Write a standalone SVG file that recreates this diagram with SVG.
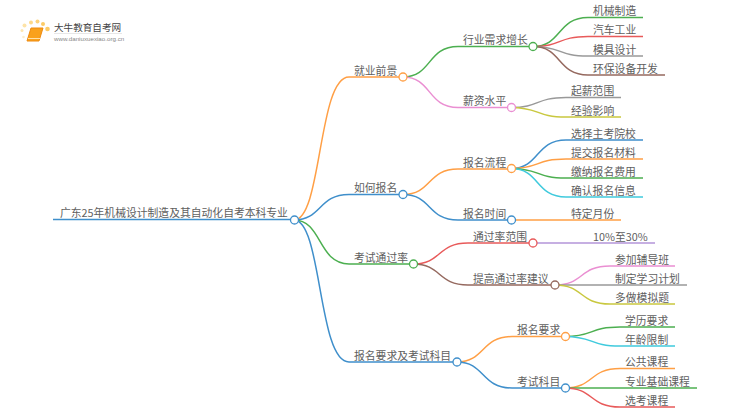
<svg xmlns="http://www.w3.org/2000/svg" width="750" height="410" viewBox="0 0 750 410">
<style>
text{font-family:"Noto Sans CJK SC","Liberation Sans",sans-serif;font-size:10.8px;fill:#606060}
#connectors path{fill:none;stroke-width:1.5}
circle{fill:#fff;stroke-width:1.3}
.o{stroke:#ff9f45}.b{stroke:#3f8fcb}.g{stroke:#4caf50}.p{stroke:#ea8fd2}.r{stroke:#e85a5a}.k{stroke:#999}.n{stroke:#95695f}.y{stroke:#c9c83f}.c{stroke:#3fcadd}.u{stroke:#b394d8}
</style>
<rect width="750" height="410" fill="#fff"/>
<g id="logo">
<circle cx="22" cy="30.500" r="1.500" style="fill:#fde6b0;stroke:none"/><circle cx="24.500" cy="25.500" r="2" style="fill:#fde3a8;stroke:none"/><circle cx="31" cy="22.500" r="2" style="fill:#fdd98a;stroke:none"/><circle cx="37.500" cy="21.500" r="2" style="fill:#fdd27a;stroke:none"/><circle cx="43" cy="24" r="2" style="fill:#fccb66;stroke:none"/><circle cx="47.500" cy="29" r="2.300" style="fill:#fccb66;stroke:none"/><circle cx="23.500" cy="37" r="1.300" style="fill:#fdeecb;stroke:none"/>
<path d="M31 28H43L39 41H27Z" fill="#f9a11b" stroke="#ee8a10" stroke-width="1"/>
<path d="M28 38.500H40" stroke="#ffe1a8" stroke-width="1" fill="none"/>
<text x="54" y="31" style="font-size:9.600px;fill:#444">大牛教育自考网</text>
<path d="M54 33.500H122" stroke="#ddd" stroke-width="0.700" fill="none"/>
<text x="54" y="41" style="font-size:6.200px;fill:#888;font-family:'Liberation Sans',sans-serif">www.daniuxuexiao.org.cn</text>
</g>
<g id="connectors">
<path class="b" d="M53 219.500H294"/>
<path class="o" d="M294 220C322 220 318 77 349 77H403"/>
<path class="b" d="M294 220C322 220 318 194.500 349 194.500H403"/>
<path class="g" d="M294 220C322 220 318 264 349 264H413"/>
<path class="b" d="M294 220C322 220 318 362 349 362H457"/>
<path class="g" d="M403 77C432 77 427 46.500 458 46.500H533"/>
<path class="p" d="M403 77C432 77 427 107.500 458 107.500H511"/>
<path class="g" d="M533 46.500C562 46.500 557 17.500 588 17.500H643"/>
<path class="r" d="M533 46.500C562 46.500 557 36.500 588 36.500H643"/>
<path class="k" d="M533 46.500C562 46.500 557 56 588 56H643"/>
<path class="n" d="M533 46.500C562 46.500 557 75 588 75H665"/>
<path class="k" d="M511 107.500C540 107.500 535 97.500 566 97.500H621"/>
<path class="y" d="M511 107.500C540 107.500 535 117 566 117H621"/>
<path class="o" d="M403 194.500C432 194.500 427 169 458 169H511"/>
<path class="b" d="M403 194.500C432 194.500 427 220 458 220H511"/>
<path class="b" d="M511 168.500C540 168.500 535 140 566 140H643"/>
<path class="o" d="M511 168.500C540 168.500 535 159 566 159H643"/>
<path class="g" d="M511 168.500C540 168.500 535 178 566 178H643"/>
<path class="c" d="M511 168.500C540 168.500 535 197 566 197H643"/>
<path class="o" d="M511 220H621"/>
<path class="r" d="M413 264C442 264 437 243 468 243H533"/>
<path class="n" d="M413 264C442 264 437 285 468 285H555"/>
<path class="u" d="M533 243H655"/>
<path class="p" d="M555 285C584 285 579 266 610 266H675"/>
<path class="k" d="M555 285H687"/>
<path class="y" d="M555 285C584 285 579 304 610 304H675"/>
<path class="o" d="M457 362C485 362 481 336.500 512 336.500H565"/>
<path class="b" d="M457 362C485 362 481 388 512 388H565"/>
<path class="g" d="M565 336.500C594 336.500 589 327 620 327H675"/>
<path class="c" d="M565 336.500C594 336.500 589 346 620 346H675"/>
<path class="o" d="M565 388C594 388 589 368.500 620 368.500H675"/>
<path class="g" d="M565 388H697"/>
<path class="r" d="M565 388C594 388 589 407 620 407H675"/>
</g>
<g id="root"><text x="60" y="217">广东25年机械设计制造及其自动化自考本科专业</text><circle class="b" cx="294.500" cy="220" r="4"/></g>
<g id="n1"><text x="354" y="74.500">就业前景</text><circle class="o" cx="403" cy="77" r="4"/></g>
<g id="n2"><text x="354" y="192">如何报名</text><circle class="b" cx="403" cy="194.500" r="4"/></g>
<g id="n3"><text x="354" y="261.500">考试通过率</text><circle class="g" cx="413.500" cy="264" r="4"/></g>
<g id="n4"><text x="354" y="359.500">报名要求及考试科目</text><circle class="b" cx="457" cy="362" r="4"/></g>
<g id="n11"><text x="463" y="44">行业需求增长</text><circle class="g" cx="533" cy="46.500" r="4"/></g>
<g id="n12"><text x="463" y="105">薪资水平</text><circle class="p" cx="511.500" cy="107.500" r="4"/></g>
<g id="n21"><text x="463" y="166.500">报名流程</text><circle class="o" cx="511.500" cy="168.500" r="4"/></g>
<g id="n22"><text x="463" y="217.500">报名时间</text><circle class="b" cx="511.500" cy="220" r="4"/></g>
<g id="n31"><text x="473" y="240.500">通过率范围</text><circle class="r" cx="533" cy="243" r="4"/></g>
<g id="n32"><text x="473" y="282.500">提高通过率建议</text><circle class="n" cx="555" cy="285" r="4"/></g>
<g id="n41"><text x="517" y="334">报名要求</text><circle class="o" cx="565.500" cy="336.500" r="4"/></g>
<g id="n42"><text x="517" y="385.500">考试科目</text><circle class="b" cx="565.500" cy="388" r="4"/></g>
<g id="l1"><text x="593" y="15">机械制造</text></g>
<g id="l2"><text x="593" y="34">汽车工业</text></g>
<g id="l3"><text x="593" y="53.500">模具设计</text></g>
<g id="l4"><text x="593" y="72.500">环保设备开发</text></g>
<g id="l5"><text x="571" y="95">起薪范围</text></g>
<g id="l6"><text x="571" y="114.500">经验影响</text></g>
<g id="l7"><text x="571" y="137.500">选择主考院校</text></g>
<g id="l8"><text x="571" y="156.500">提交报名材料</text></g>
<g id="l9"><text x="571" y="175.500">缴纳报名费用</text></g>
<g id="l10"><text x="571" y="194.500">确认报名信息</text></g>
<g id="l11"><text x="571" y="217.500">特定月份</text></g>
<g id="l12"><text x="593" y="240.500">10%至30%</text></g>
<g id="l13"><text x="615" y="263.500">参加辅导班</text></g>
<g id="l14"><text x="615" y="282.500">制定学习计划</text></g>
<g id="l15"><text x="615" y="301.500">多做模拟题</text></g>
<g id="l16"><text x="625" y="324.500">学历要求</text></g>
<g id="l17"><text x="625" y="343.500">年龄限制</text></g>
<g id="l18"><text x="625" y="366">公共课程</text></g>
<g id="l19"><text x="625" y="385.500">专业基础课程</text></g>
<g id="l20"><text x="625" y="404.500">选考课程</text></g>
</svg>
